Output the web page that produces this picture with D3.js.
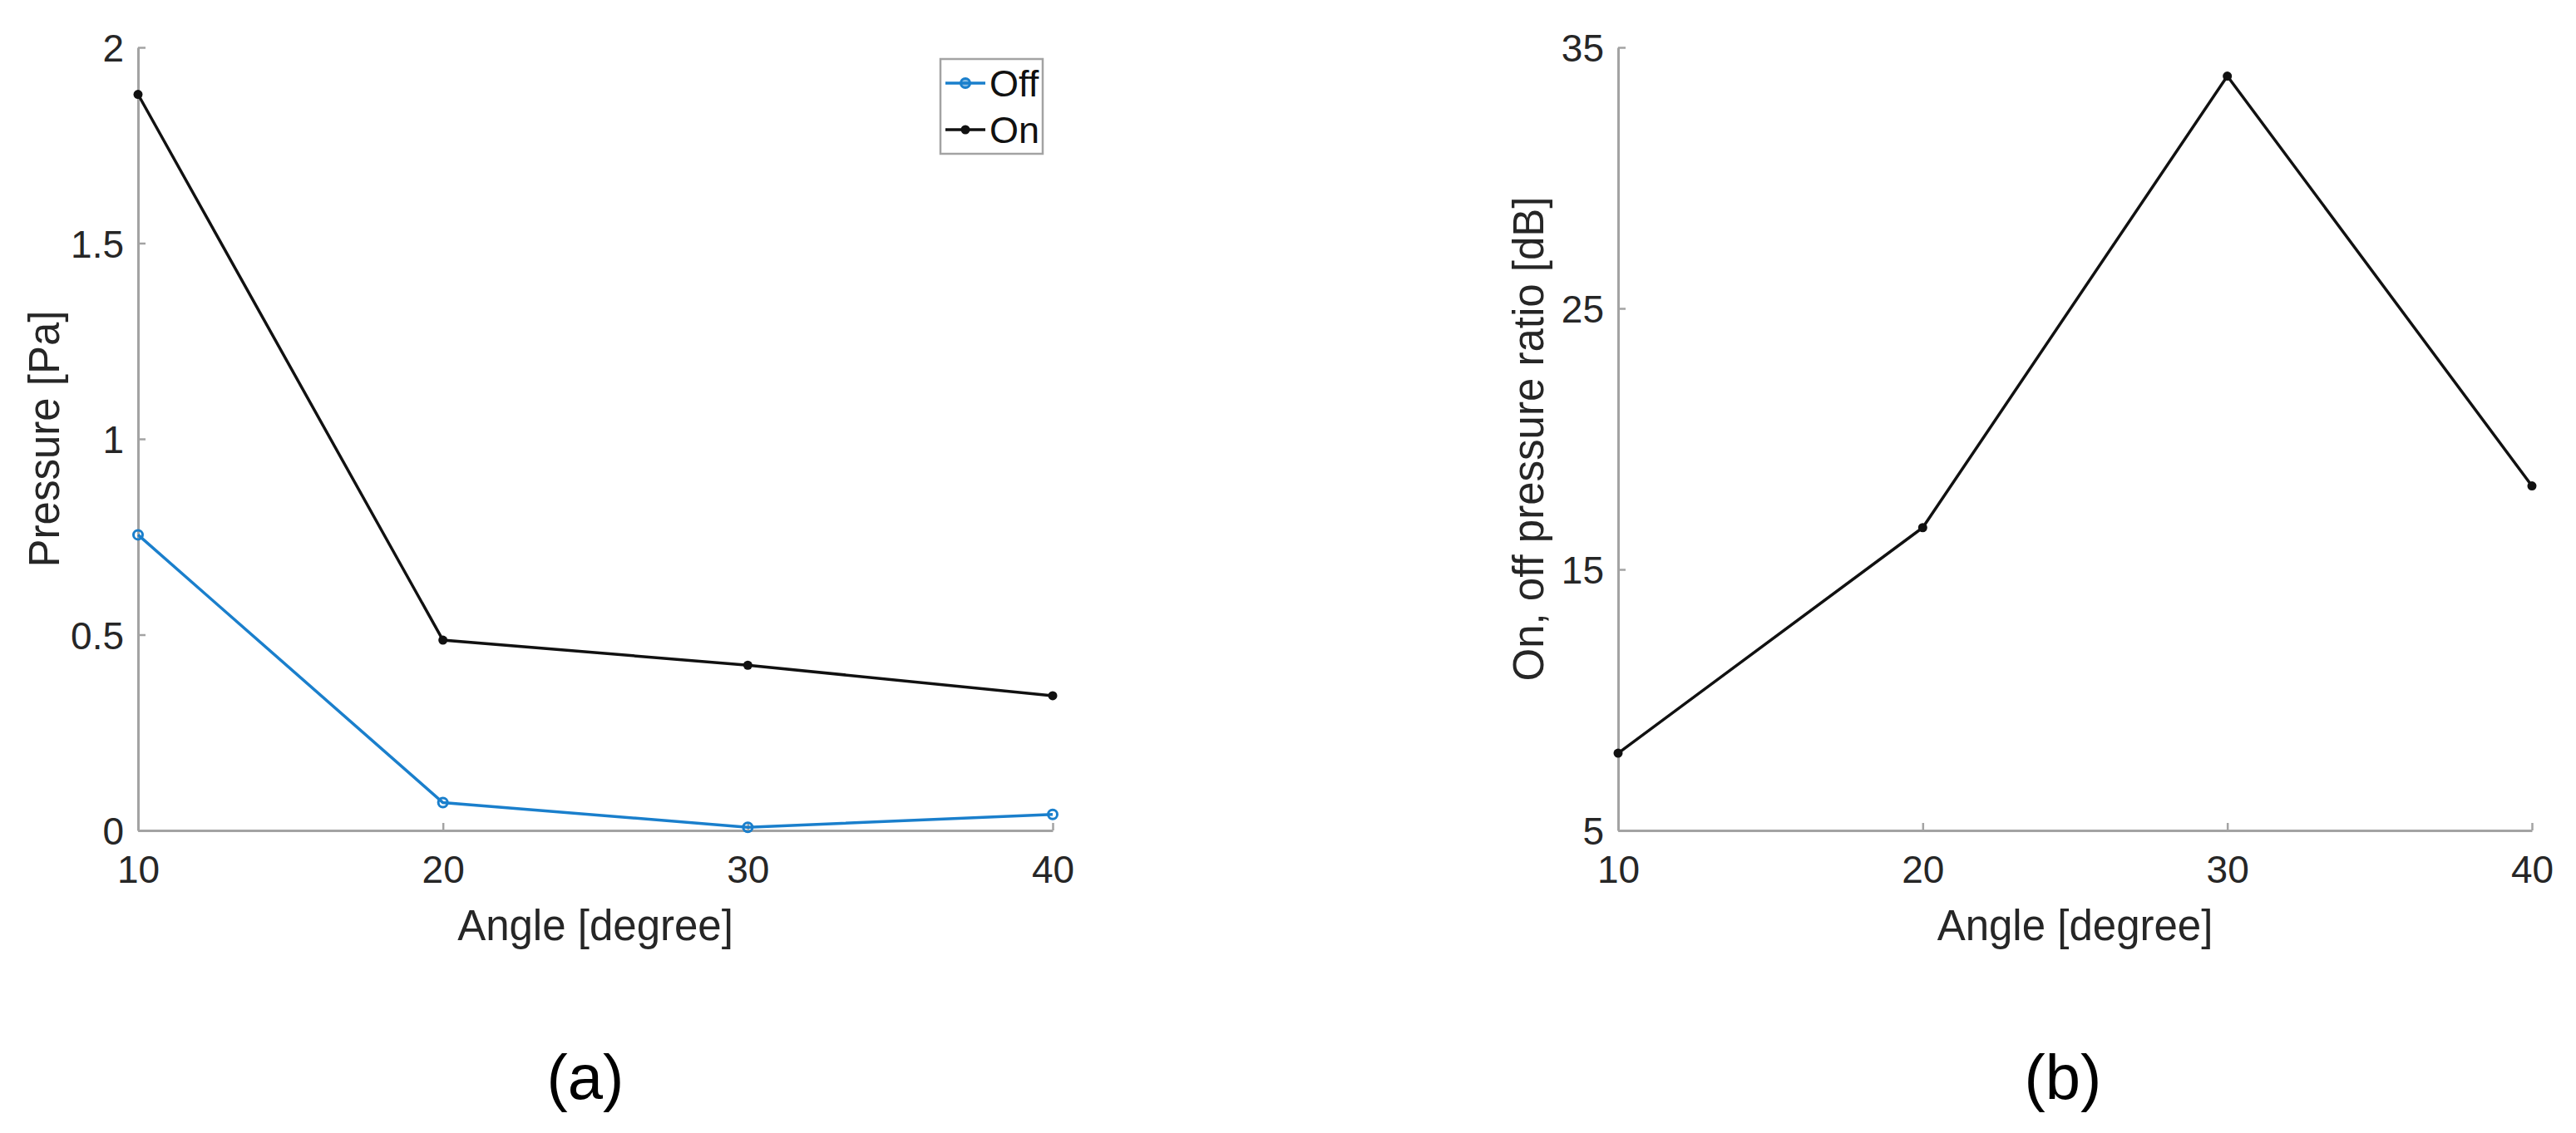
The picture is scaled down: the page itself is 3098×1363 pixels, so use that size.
<!DOCTYPE html>
<html>
<head>
<meta charset="utf-8">
<script src="https://cdn.jsdelivr.net/npm/d3@7"></script>
<style>
  html, body { margin: 0; padding: 0; background: #fff; }
  svg { display: block; }
  text { font-family: "Liberation Sans", Arial, Helvetica, sans-serif; }
</style>
</head>
<body>
<script>
// ---- data ----
const angles = [10, 20, 30, 40];
const offPressure = [0.755, 0.071, 0.008, 0.041];
const onPressure = [1.88, 0.486, 0.422, 0.344];
const ratioDb = [7.96, 16.6, 33.9, 18.2];

const xTicks = [10, 20, 30, 40];
const pressureTicks = [0, 0.5, 1, 1.5, 2];
const pressureTickLabels = ["0", "0.5", "1", "1.5", "2"];
const ratioTicks = [5, 15, 25, 35];
const seriesNames = ["Off", "On"];
const seriesColors = ["#1a7fcc", "#111111"];

// ---- layout ----
const W = 3098, H = 1363;
const svg = d3.select("body").append("svg").attr("width", W).attr("height", H);

const axisColor = "#a3a3a3";
const textColor = "#262626";
const tickFont = 46, labelFont = 51;

function drawAxes(g, x, y, yTicks, yFmt, xLabel, yLabel, yLabelX) {
  const [x0, x1] = x.range();
  const [y0, y1] = y.range();
  // axis lines
  const xa = g.append("g").attr("transform", `translate(0,${y0})`)
    .call(d3.axisBottom(x).tickValues(xTicks).tickSize(-9).tickSizeOuter(0).tickFormat(d3.format("d")));
  const ya = g.append("g").attr("transform", `translate(${x0},0)`)
    .call(d3.axisLeft(y).tickValues(yTicks).tickSize(-9).tickSizeOuter(0).tickFormat(yFmt));
  [xa, ya].forEach(a => {
    a.select(".domain").attr("stroke", axisColor).attr("stroke-width", 3);
    a.selectAll(".tick line").attr("stroke", axisColor).attr("stroke-width", 2.5);
    a.selectAll(".tick text").attr("fill", textColor).attr("font-size", tickFont)
      .attr("font-family", "Liberation Sans, Arial, sans-serif");
  });
  xa.selectAll(".tick text").attr("y", 30).attr("dy", "0.71em");
  ya.selectAll(".tick text").attr("x", -17).attr("dy", "0.36em");
  // labels
  g.append("text").attr("x", (x0 + x1) / 2).attr("y", 1131)
    .attr("text-anchor", "middle").attr("fill", textColor).attr("font-size", labelFont)
    .text(xLabel);
  g.append("text").attr("transform", `translate(${yLabelX},${(y0 + y1) / 2}) rotate(-90)`)
    .attr("text-anchor", "middle").attr("dy", "0.36em").attr("fill", textColor).attr("font-size", labelFont)
    .text(yLabel);
}

// ---- left panel ----
const xL = d3.scaleLinear().domain([10, 40]).range([166, 1266]);
const yL = d3.scaleLinear().domain([0, 2]).range([999, 57]);
const gL = svg.append("g");
drawAxes(gL, xL, yL, pressureTicks, (d, i) => pressureTickLabels[i], "Angle [degree]", "Pressure [Pa]", 53);

const lineL = d3.line().x((d, i) => xL(angles[i])).y(d => yL(d));
// On series
gL.append("path").datum(onPressure).attr("d", lineL).attr("fill", "none")
  .attr("stroke", seriesColors[1]).attr("stroke-width", 3.5);
gL.selectAll(".onpt").data(onPressure).enter().append("circle")
  .attr("cx", (d, i) => xL(angles[i])).attr("cy", d => yL(d)).attr("r", 5.5).attr("fill", seriesColors[1]);
// Off series
gL.append("path").datum(offPressure).attr("d", lineL).attr("fill", "none")
  .attr("stroke", seriesColors[0]).attr("stroke-width", 3.5);
gL.selectAll(".offpt").data(offPressure).enter().append("circle")
  .attr("cx", (d, i) => xL(angles[i])).attr("cy", d => yL(d)).attr("r", 5.5)
  .attr("fill", "none").attr("stroke", seriesColors[0]).attr("stroke-width", 3);

// legend
const leg = gL.append("g");
leg.append("rect").attr("x", 1131).attr("y", 71).attr("width", 123).attr("height", 114)
  .attr("fill", "#fff").attr("stroke", axisColor).attr("stroke-width", 2.5);
seriesNames.forEach((name, i) => {
  const ly = 100 + i * 56;
  leg.append("line").attr("x1", 1137).attr("x2", 1185).attr("y1", ly).attr("y2", ly)
    .attr("stroke", seriesColors[i]).attr("stroke-width", 3.5);
  if (i === 0) {
    leg.append("circle").attr("cx", 1161).attr("cy", ly).attr("r", 5.5)
      .attr("fill", seriesColors[0]).attr("fill-opacity", 0.5).attr("stroke", seriesColors[0]).attr("stroke-width", 3);
  } else {
    leg.append("circle").attr("cx", 1161).attr("cy", ly).attr("r", 5.5).attr("fill", seriesColors[1]);
  }
  leg.append("text").attr("x", 1190).attr("y", ly).attr("dy", "0.36em")
    .attr("font-size", 45).attr("fill", "#111").text(name);
});

// ---- right panel ----
const xR = d3.scaleLinear().domain([10, 40]).range([1946, 3045]);
const yR = d3.scaleLinear().domain([5, 35]).range([999, 57]);
const gR = svg.append("g");
drawAxes(gR, xR, yR, ratioTicks, d3.format("d"), "Angle [degree]", "On, off pressure ratio [dB]", 1838);
const lineR = d3.line().x((d, i) => xR(angles[i])).y(d => yR(d));
gR.append("path").datum(ratioDb).attr("d", lineR).attr("fill", "none")
  .attr("stroke", "#111").attr("stroke-width", 3.5);
gR.selectAll(".rpt").data(ratioDb).enter().append("circle")
  .attr("cx", (d, i) => xR(angles[i])).attr("cy", d => yR(d)).attr("r", 5.5).attr("fill", "#111");

// ---- panel captions ----
svg.append("text").attr("x", 704).attr("y", 1322).attr("text-anchor", "middle")
  .attr("font-size", 76).attr("fill", "#000").text("(a)");
svg.append("text").attr("x", 2481).attr("y", 1322).attr("text-anchor", "middle")
  .attr("font-size", 76).attr("fill", "#000").text("(b)");
</script>
</body>
</html>
